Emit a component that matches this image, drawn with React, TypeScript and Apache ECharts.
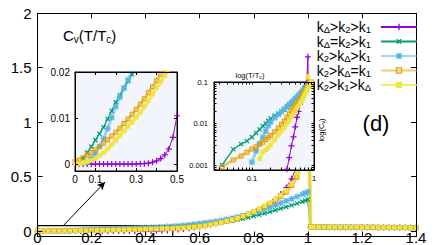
import React, { useEffect, useRef } from "react";
import * as echarts from "echarts";

// ---------- main plot data (T/Tc grid and C_v values) ----------
const temperature = [
  0, 0.02, 0.04, 0.06, 0.08, 0.1, 0.12, 0.14, 0.16, 0.18,
  0.2, 0.22, 0.24, 0.26, 0.28, 0.3, 0.32, 0.34, 0.36, 0.38,
  0.4, 0.42, 0.44, 0.46, 0.48, 0.5, 0.52, 0.54, 0.56, 0.58,
  0.6, 0.62, 0.64, 0.66, 0.68, 0.7, 0.72, 0.74, 0.76, 0.78,
  0.8, 0.82, 0.84, 0.86, 0.88, 0.9, 0.92, 0.94, 0.96, 0.98,
  0.99, 1.0,
  1.01, 1.02, 1.04, 1.06, 1.08, 1.1, 1.12, 1.14, 1.16, 1.18,
  1.2, 1.22, 1.24, 1.26, 1.28, 1.3, 1.32, 1.34, 1.36, 1.38, 1.4,
];

const cvPurple = [
  0, 0, 0, 0, 0, 0, 0, 0, 0, 0,
  0, 0, 0, 0, 0,
  0, 0.0001, 0.0001, 0.0002, 0.0004,
  0.0007, 0.0012, 0.002, 0.0033, 0.0058,
  0.0105, 0.015, 0.02, 0.026, 0.033,
  0.041, 0.05, 0.059, 0.069, 0.08,
  0.092, 0.105, 0.12, 0.136, 0.153,
  0.172, 0.194, 0.22, 0.25, 0.29,
  0.34, 0.4, 0.48, 0.6, 0.8,
  1.05, 1.6,
];
const cvGreen = [
  null, null, 0.0012, 0.0025, 0.0038, 0.0052, 0.0066, 0.008, 0.0098, 0.0116,
  0.0134, 0.015, 0.0165, 0.018, 0.0195,
  0.021, 0.0225, 0.024, 0.0256, 0.0272,
  0.029, 0.031, 0.033, 0.035, 0.037,
  0.039, 0.041, 0.044, 0.047, 0.05,
  0.053, 0.058, 0.064, 0.071, 0.078,
  0.086, 0.095, 0.104, 0.114, 0.125,
  0.137, 0.15, 0.163, 0.177, 0.192,
  0.207, 0.222, 0.237, 0.253, 0.27,
  0.28, 0.29,
];
const cvBlue = [
  null, null, null, 0.0004, 0.0012, 0.0024, 0.0038, 0.0055, 0.0077, 0.0101,
  0.0125, 0.0145, 0.0165, 0.0183, 0.0201,
  0.0218, 0.0235, 0.0252, 0.027, 0.029,
  0.031, 0.0332, 0.0355, 0.038, 0.041,
  0.044, 0.048, 0.052, 0.057, 0.063,
  0.07, 0.076, 0.082, 0.089, 0.098,
  0.108, 0.118, 0.13, 0.143, 0.157,
  0.172, 0.188, 0.205, 0.222, 0.24,
  0.258, 0.277, 0.296, 0.316, 0.337,
  0.348, 0.36,
];
const cvOrange = [
  0.0005, 0.0009, 0.0014, 0.0019, 0.0025, 0.0031, 0.0038, 0.0045, 0.0053, 0.0061,
  0.0069, 0.0078, 0.0088, 0.0098, 0.0108,
  0.0119, 0.013, 0.0142, 0.0155, 0.0168,
  0.0181, 0.0195, 0.021, 0.0225, 0.024,
  0.0256, 0.028, 0.031, 0.0345, 0.039,
  0.045, 0.052, 0.06, 0.069, 0.079,
  0.09, 0.102, 0.118, 0.135, 0.155,
  0.177, 0.2, 0.225, 0.252, 0.282,
  0.316, 0.356, 0.415, 0.495, 0.62,
  0.78, 1.35,
];
const cvYellow = [
  0, 0.0001, 0.0003, 0.0005, 0.0008, 0.0012, 0.0018, 0.0025, 0.0033, 0.0042,
  0.0052, 0.0062, 0.0072, 0.0082, 0.0091,
  0.0101, 0.0112, 0.0125, 0.0138, 0.0152,
  0.0166, 0.0179, 0.0192, 0.0206, 0.022,
  0.0236, 0.0256, 0.028, 0.0315, 0.0365,
  0.0425, 0.05, 0.058, 0.067, 0.078,
  0.09, 0.104, 0.12, 0.138, 0.158,
  0.18, 0.206, 0.232, 0.26, 0.292,
  0.33, 0.375, 0.44, 0.53, 0.66,
  0.85, 1.42,
];
// common values above Tc (T = 1.01 ... 1.4)
const cvAboveTc = [
  0.038, 0.038, 0.037, 0.037, 0.036, 0.036, 0.036, 0.035, 0.035, 0.035,
  0.034, 0.034, 0.034, 0.033, 0.033, 0.033, 0.032, 0.032, 0.032, 0.031, 0.031,
];

// ---------- log-log inset data ----------
const logTemperature = [
  0.033, 0.05, 0.067, 0.083, 0.1, 0.117, 0.133, 0.15, 0.167, 0.183,
  0.2, 0.233, 0.267, 0.3, 0.333, 0.367, 0.4, 0.433, 0.467, 0.5,
  0.533, 0.567, 0.6, 0.633, 0.667, 0.7, 0.733, 0.767, 0.8, 0.833,
  0.867, 0.9, 0.933, 0.967, 1.0,
];
const logPurple = [
  null, null, null, null, null, null, null, null, null, null,
  null, null, null, null, null, 0.00079, 0.00151, 0.00288, 0.00479, 0.00832,
  0.0141, 0.0195, 0.0295, 0.0389, 0.0501, 0.0661, 0.0794, 0.0955, 0.112, 0.13,
  0.15, 0.17, 0.19, 0.21, 0.23,
];
const logGreen = [
  0.001, 0.0024, 0.0032, 0.0038, 0.0047, 0.0059, 0.0072, 0.0087, 0.01, 0.0117,
  0.0132, 0.0155, 0.0174, 0.0195, 0.0214, 0.0245, 0.0275, 0.031, 0.0339, 0.038,
  0.0417, 0.0457, 0.0501, 0.0549, 0.0603, 0.0661, 0.0708, 0.0759, 0.0813, 0.0851,
  0.0912, 0.0977, 0.105, 0.112, 0.12,
];
const logBlue = [
  null, null, null, null, 0.00117, 0.00219, 0.00331, 0.00468, 0.00661, 0.00891,
  0.011, 0.0138, 0.0166, 0.0195, 0.0224, 0.0257, 0.0288, 0.0324, 0.0355, 0.0398,
  0.0437, 0.0479, 0.0525, 0.0575, 0.0631, 0.0692, 0.0741, 0.0794, 0.0851, 0.0891,
  0.0955, 0.102, 0.11, 0.117, 0.126,
];
const logOrange = [
  0.00091, 0.00132, 0.00166, 0.00204, 0.00245, 0.00275, 0.00316, 0.00355, 0.00407, 0.00457,
  0.00513, 0.0063, 0.00776, 0.00955, 0.0115, 0.0141, 0.017, 0.0209, 0.024, 0.0275,
  0.0324, 0.0355, 0.0407, 0.0457, 0.0513, 0.0575, 0.0631, 0.0708, 0.0776, 0.0832,
  0.0912, 0.1, 0.108, 0.117, 0.126,
];
const logYellow = [
  null, null, null, null, null, null, 0.00141, 0.00209, 0.00234, 0.00263,
  0.00302, 0.00407, 0.00537, 0.0066, 0.00794, 0.01, 0.012, 0.0148, 0.0174, 0.0204,
  0.024, 0.0269, 0.0316, 0.0355, 0.0407, 0.0479, 0.055, 0.0631, 0.0708, 0.0794,
  0.0912, 0.1, 0.11, 0.12, 0.13,
];

const seriesNames = ["kΔ>k2>k1", "kΔ=k2>k1", "k2>kΔ>k1", "k2>kΔ=k1", "k2>k1>kΔ"];

// tick positions
const mainYTicks = [0, 0.5, 1, 1.5, 2];
const inset1XLabels = [0, 0.1, 0.3, 0.5];
const inset1XTicks = [0, 0.1, 0.2, 0.3, 0.4, 0.5];
const inset1YTicks = [0, 0.01, 0.02];
const inset2XLabels = [0.1, 1];
const inset2XTicks = [0.03, 0.04, 0.05, 0.06, 0.07, 0.08, 0.09, 0.1, 0.2, 0.3, 0.4, 0.5, 0.6, 0.7, 0.8, 0.9, 1];
const inset2YLabels = [0.001, 0.01, 0.1];
const inset2YTicks = [
  0.0008, 0.0009, 0.001, 0.002, 0.003, 0.004, 0.005, 0.006, 0.007, 0.008, 0.009,
  0.01, 0.02, 0.03, 0.04, 0.05, 0.06, 0.07, 0.08, 0.09, 0.1,
];

// ---------- styles ----------
const FONT = "'Liberation Sans', Arial, Helvetica, sans-serif";
const PLUS = "path://M4,0H6V4H10V6H6V10H4V6H0V4H4Z";
const STAR =
  "path://M4,0H6V4H10V6H6V10H4V6H0V4H4Z M1.5,0.1L5,3.6L8.5,0.1L9.9,1.5L6.4,5L9.9,8.5L8.5,9.9L5,6.4L1.5,9.9L0.1,8.5L3.6,5L0.1,1.5Z";
const OPEN_SQUARE = "path://M0,0H10V10H0Z M2,2V8H8V2Z";

const seriesStyles = [
  { color: "#9400d3", symbol: PLUS, rotate: 0, size: 6, width: 1, opacity: 1 },
  { color: "#009e73", symbol: PLUS, rotate: 45, size: 6, width: 1.3, opacity: 1 },
  { color: "#56b4e9", symbol: STAR, rotate: 0, size: 6, width: 3, opacity: 0.55 },
  { color: "#e69f00", symbol: OPEN_SQUARE, rotate: 0, size: 5, width: 3, opacity: 0.55 },
  { color: "#f0e442", symbol: "rect", rotate: 0, size: 4.5, width: 4, opacity: 0.75 },
];

function richName(name: string): string {
  let out = "";
  for (let i = 0; i < name.length; i++) {
    const c = name[i];
    if (c === "k") {
      out += `{n|k}{s|${name[i + 1]}}`;
      i++;
    } else {
      out += `{n|${c}}`;
    }
  }
  return out + "{p| }";
}

export default function App() {
  const ref = useRef<HTMLDivElement>(null);

  useEffect(() => {
    document.body.style.margin = "0";
    const chart = echarts.init(ref.current!, null, { renderer: "svg" });

    const mainValues = [cvPurple, cvGreen, cvBlue, cvOrange, cvYellow].map((a) => a.concat(cvAboveTc));
    const logValues = [logPurple, logGreen, logBlue, logOrange, logYellow];

    const blackLine = { show: true, onZero: false, lineStyle: { color: "#000", width: 1 } };
    const tick = (len: number, custom?: number[]) => ({
      show: true,
      inside: true,
      length: len,
      lineStyle: { color: "#000", width: 1 },
      ...(custom ? { customValues: custom } : {}),
    });
    const label = (size: number, margin: number, custom?: number[]) => ({
      show: true,
      fontSize: size,
      fontFamily: FONT,
      color: "#000",
      margin,
      ...(custom ? { customValues: custom } : {}),
    });
    const noSplit = { show: false };

    const seriesBase = (i: number) => {
      const st = seriesStyles[i];
      return {
        type: "line",
        name: seriesNames[i],
        symbol: st.symbol,
        symbolSize: st.size,
        symbolRotate: st.rotate,
        symbolKeepAspect: true,
        itemStyle: { color: st.color, borderWidth: 0 },
        lineStyle: { color: st.color, width: st.width, opacity: st.opacity },
        emphasis: { disabled: true },
        silent: true,
        clip: true,
        animation: false,
      };
    };

    const mainSeries = seriesStyles.map((_, i) => ({
      ...seriesBase(i),
      xAxisIndex: 0,
      yAxisIndex: 0,
      z: 2,
      data: temperature.map((t, j) => [t, mainValues[i][j]]),
    }));
    const inset1Series = seriesStyles.map((_, i) => ({
      ...seriesBase(i),
      xAxisIndex: 2,
      yAxisIndex: 2,
      z: 6,
      data: temperature.map((t, j) => [t, mainValues[i][j]]),
    }));
    const inset2Series = seriesStyles.map((_, i) => ({
      ...seriesBase(i),
      xAxisIndex: 3,
      yAxisIndex: 3,
      z: 6,
      data: logTemperature.map((t, j) => [t, logValues[i][j]]),
    }));

    const helper = {
      type: "line",
      data: [],
      xAxisIndex: 0,
      yAxisIndex: 0,
      z: 4,
      silent: true,
      animation: false,
      markLine: {
        silent: true,
        animation: false,
        symbol: ["none", "arrow"],
        symbolSize: [6, 8],
        label: { show: false },
        emphasis: { disabled: true },
        lineStyle: { color: "#000", width: 1, type: "solid" },
        data: [[{ coord: [0.094, 0.046] }, { coord: [0.25, 0.45] }]],
      },
      markArea: {
        silent: true,
        animation: false,
        itemStyle: { color: "rgba(0,0,0,0)", borderColor: "#000", borderWidth: 1.2 },
        emphasis: { disabled: true },
        data: [[{ coord: [0, -0.05] }, { coord: [0.5, 0.05] }]],
      },
    };

    const insetGrid = {
      show: true,
      backgroundColor: "#f3f5fc",
      borderColor: "#000",
      borderWidth: 1,
      z: 5,
    };

    const option = {
      animation: false,
      grid: [
        { left: 37.5, right: 20, top: 13.3, bottom: 8.5 },
        { ...insetGrid, left: 75, top: 72, width: 102, height: 99 },
        { ...insetGrid, left: 214, top: 82, width: 100, height: 88 },
      ],
      xAxis: [
        {
          type: "value", gridIndex: 0, min: 0, max: 1.4, interval: 0.2,
          axisLine: blackLine, axisTick: tick(5), axisLabel: label(15, -7), splitLine: noSplit, z: 3,
        },
        {
          type: "value", gridIndex: 0, min: 0, max: 1.4, interval: 0.2, position: "top",
          axisLine: blackLine, axisTick: tick(5), axisLabel: { show: false }, splitLine: noSplit, z: 3,
        },
        {
          type: "value", gridIndex: 1, min: 0, max: 0.5,
          axisLine: blackLine, axisTick: tick(3, inset1XTicks), axisLabel: label(10, 3, inset1XLabels),
          splitLine: noSplit, z: 7,
        },
        {
          type: "log", logBase: 10, gridIndex: 2, min: 0.0245, max: 1,
          axisLine: blackLine, axisTick: tick(2.5, inset2XTicks), axisLabel: label(7.5, 4, inset2XLabels),
          splitLine: noSplit, minorTick: { show: false }, z: 7,
        },
        {
          type: "log", logBase: 10, gridIndex: 2, min: 0.0245, max: 1, position: "top",
          axisLine: blackLine, axisTick: tick(2.5, inset2XTicks), axisLabel: { show: false },
          splitLine: noSplit, z: 7,
        },
        {
          type: "value", gridIndex: 1, min: 0, max: 0.5, position: "top",
          axisLine: blackLine, axisTick: tick(3, inset1XTicks), axisLabel: { show: false },
          splitLine: noSplit, z: 7,
        },
      ],
      yAxis: [
        {
          type: "value", gridIndex: 0, min: -0.05, max: 2,
          axisLine: blackLine, axisTick: tick(5, mainYTicks), axisLabel: label(15, 6, mainYTicks),
          splitLine: noSplit, z: 3,
        },
        {
          type: "value", gridIndex: 0, min: -0.05, max: 2, position: "right",
          axisLine: blackLine, axisTick: tick(5, mainYTicks), axisLabel: { show: false },
          splitLine: noSplit, z: 3,
        },
        {
          type: "value", gridIndex: 1, min: -0.0015, max: 0.02,
          axisLine: blackLine, axisTick: tick(3, inset1YTicks), axisLabel: label(10, 5, inset1YTicks),
          splitLine: noSplit, z: 7,
        },
        {
          type: "log", logBase: 10, gridIndex: 2, min: 0.00076, max: 0.1,
          axisLine: blackLine, axisTick: tick(2.5, inset2YTicks), axisLabel: label(7.5, 6, inset2YLabels),
          splitLine: noSplit, minorTick: { show: false }, z: 7,
        },
        {
          type: "log", logBase: 10, gridIndex: 2, min: 0.00076, max: 0.1, position: "right",
          axisLine: blackLine, axisTick: tick(2.5, inset2YTicks), axisLabel: { show: false },
          splitLine: noSplit, z: 7,
        },
        {
          type: "value", gridIndex: 1, min: -0.0015, max: 0.02, position: "right",
          axisLine: blackLine, axisTick: tick(3, inset1YTicks), axisLabel: { show: false },
          splitLine: noSplit, z: 7,
        },
      ],
      legend: {
        data: seriesNames,
        orient: "vertical",
        align: "right",
        right: 18,
        top: 15,
        padding: [5, 0, 5, 0],
        itemWidth: 36,
        itemHeight: 8,
        itemGap: 0,
        selectedMode: false,
        formatter: (name: string) => richName(name),
        textStyle: {
          fontFamily: FONT,
          fontSize: 14,
          color: "#000",
          rich: {
            n: { fontFamily: FONT, fontSize: 14, lineHeight: 15, color: "#000" },
            s: { fontFamily: FONT, fontSize: 9.5, lineHeight: 9, verticalAlign: "bottom", color: "#000" },
            p: { width: 5, fontSize: 14, lineHeight: 15 },
          },
        },
      },
      graphic: [
        {
          type: "text",
          x: 63,
          y: 35,
          style: {
            text: "{n|C}{s|v}{n|(T/T}{s|c}{n|)}",
            align: "left",
            verticalAlign: "middle",
            fill: "#000",
            rich: {
              n: { fontFamily: FONT, fontSize: 15, lineHeight: 18, fill: "#000" },
              s: { fontFamily: FONT, fontSize: 10, lineHeight: 10, verticalAlign: "bottom", fill: "#000" },
            },
          },
        },
        {
          type: "text",
          x: 376,
          y: 123,
          style: {
            text: "(d)",
            font: `22px ${FONT}`,
            align: "center",
            verticalAlign: "middle",
            fill: "#000",
          },
        },
        {
          type: "text",
          x: 250,
          y: 75,
          z: 8,
          style: {
            text: "{n|log(T/T}{s|c}{n|)}",
            align: "center",
            verticalAlign: "middle",
            fill: "#000",
            rich: {
              n: { fontFamily: FONT, fontSize: 7.5, lineHeight: 9, fill: "#000" },
              s: { fontFamily: FONT, fontSize: 5.5, lineHeight: 5.5, verticalAlign: "bottom", fill: "#000" },
            },
          },
        },
        {
          type: "text",
          x: 321,
          y: 130,
          rotation: Math.PI / 2,
          z: 8,
          style: {
            text: "{n|log(C}{s|v}{n|)}",
            align: "center",
            verticalAlign: "middle",
            fill: "#000",
            rich: {
              n: { fontFamily: FONT, fontSize: 7.5, lineHeight: 9, fill: "#000" },
              s: { fontFamily: FONT, fontSize: 5.5, lineHeight: 5.5, verticalAlign: "bottom", fill: "#000" },
            },
          },
        },
      ],
      series: [...mainSeries, helper, ...inset1Series, ...inset2Series],
    };

    chart.setOption(option as any);
    return () => chart.dispose();
  }, []);

  return (
    <div
      ref={ref}
      style={{ position: "absolute", left: 0, top: 0, width: 436, height: 245 }}
    />
  );
}
